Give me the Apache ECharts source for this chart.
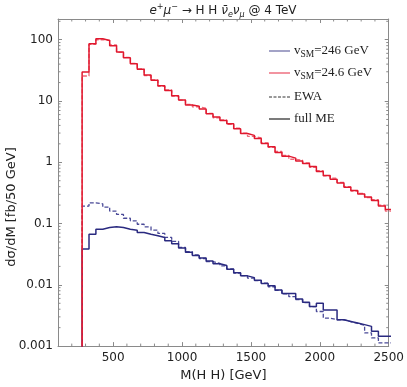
<!DOCTYPE html>
<html lang="en">
<head>
<meta charset="utf-8">
<title>HH production at 4 TeV</title>
<script src="https://cdn.jsdelivr.net/npm/echarts@6/dist/echarts.min.js"></script>
<style>
  html, body { margin: 0; padding: 0; background: #fff; }
  #chart { width: 407px; height: 387px; }
</style>
</head>
<body>
<div id="chart"></div>
<script>
// bin edges in GeV (50 GeV bins), last entry closes the last bin
var binEdges = [275, 325, 375, 425, 475, 525, 575, 625, 675, 725,
                775, 825, 875, 925, 975, 1025, 1075, 1125, 1175, 1225,
                1275, 1325, 1375, 1425, 1475, 1525, 1575, 1625, 1675, 1725,
                1775, 1825, 1875, 1925, 1975, 2025, 2075, 2125, 2175, 2225,
                2275, 2325, 2375, 2425, 2475, 2525];

// vSM = 24.6 GeV
var redFull = [29.7, 86, 104, 97, 80, 63, 50.7, 40.5, 32.9, 26.6,
               21.8, 17.7, 14.9, 12.2, 10.4, 8.6, 8.2, 7.43, 6.17, 5.46,
               4.82, 4.26, 3.53, 2.94, 2.75, 2.44, 2.02, 1.79, 1.45, 1.26,
               1.17, 1.05, 0.955, 0.85, 0.71, 0.61, 0.53, 0.458, 0.39, 0.345,
               0.305, 0.272, 0.238, 0.193, 0.17];
var redEwa  = [25.6, 84, 100, 98, 82, 62, 51.5, 41, 33.5, 26,
               22.2, 17.4, 15.2, 12.0, 10.3, 8.8, 8.0, 7.6, 6.3, 5.3,
               4.9, 4.15, 3.6, 3.0, 2.65, 2.5, 2.08, 1.75, 1.5, 1.3,
               1.12, 1.08, 0.98, 0.83, 0.73, 0.6, 0.55, 0.47, 0.4, 0.34,
               0.31, 0.265, 0.245, 0.2, 0.16];

// vSM = 246 GeV
var blueFull = [0.0385, 0.0671, 0.0809, 0.0861, 0.0885, 0.0861, 0.0809, 0.078, 0.0716, 0.0671,
                0.0634, 0.0594, 0.0526, 0.0468, 0.0398, 0.034, 0.0301, 0.0275, 0.0244, 0.0221,
                0.0207, 0.0179, 0.0158, 0.014, 0.0131, 0.0119, 0.0105, 0.00964, 0.0082, 0.00724,
                0.00724, 0.00587, 0.00519, 0.00442, 0.00501, 0.0039, 0.0039, 0.00269, 0.00253, 0.00238,
                0.00224, 0.0021, 0.00175, 0.00145, 0.00145];
var blueEwa  = [0.193, 0.218, 0.21, 0.186, 0.16, 0.141, 0.122, 0.111, 0.0975, 0.0885,
                0.078, 0.069, 0.0594, 0.0513, 0.041, 0.0347, 0.0309, 0.0269, 0.024, 0.0224,
                0.0204, 0.0182, 0.0155, 0.0141, 0.0129, 0.0117, 0.0107, 0.0093, 0.0081, 0.0071,
                0.0064, 0.00575, 0.00513, 0.00442, 0.00367, 0.00286, 0.00269, 0.00269, 0.00251, 0.00234,
                0.00219, 0.00164, 0.00136, 0.00113, 0.00113];

var xTicks = [500, 1000, 1500, 2000, 2500];
var xMinorTicks = [200, 300, 400, 600, 700, 800, 900, 1100, 1200, 1300, 1400,
                   1600, 1700, 1800, 1900, 2100, 2200, 2300, 2400];
var yMinorTicks = [0.002, 0.003, 0.004, 0.005, 0.006, 0.007, 0.008, 0.009,
                   0.02, 0.03, 0.04, 0.05, 0.06, 0.07, 0.08, 0.09,
                   0.2, 0.3, 0.4, 0.5, 0.6, 0.7, 0.8, 0.9,
                   2, 3, 4, 5, 6, 7, 8, 9,
                   20, 30, 40, 50, 60, 70, 80, 90, 200];

var xMin = 100, xMax = 2500;
var yMin = 0.001, yMax = 218;
var frameColor = '#8a8a8a';

// histogram outline: start from below the axis, one point per bin edge
function steps(vals) {
  var d = [[binEdges[0], 1e-7]];
  for (var i = 0; i < vals.length; i++) {
    d.push([binEdges[i], vals[i]]);
  }
  d.push([binEdges[vals.length], vals[vals.length - 1]]);
  return d;
}

function histSeries(vals, color, dashed, width, z) {
  return {
    type: 'line',
    step: 'end',
    data: steps(vals),
    showSymbol: false,
    clip: true,
    z: z,
    lineStyle: { color: color, width: width, type: dashed ? [4, 2] : 'solid' }
  };
}

// small inside ticks drawn on both sides of the frame
function minorTickSeries(vals, isX) {
  return {
    type: 'custom',
    silent: true,
    z: 1,
    data: vals.map(function (v) { return isX ? [v, yMin] : [xMin, v]; }),
    renderItem: function (params, api) {
      var len = 2.5;
      var st = { stroke: frameColor, lineWidth: 1 };
      if (isX) {
        var b = api.coord([api.value(0), yMin]);
        var t = api.coord([api.value(0), yMax]);
        return { type: 'group', children: [
          { type: 'line', shape: { x1: b[0], y1: b[1], x2: b[0], y2: b[1] - len }, style: st },
          { type: 'line', shape: { x1: t[0], y1: t[1], x2: t[0], y2: t[1] + len }, style: st }
        ]};
      }
      var l = api.coord([xMin, api.value(1)]);
      var r = api.coord([xMax, api.value(1)]);
      return { type: 'group', children: [
        { type: 'line', shape: { x1: l[0], y1: l[1], x2: l[0] + len, y2: l[1] }, style: st },
        { type: 'line', shape: { x1: r[0], y1: r[1], x2: r[0] - len, y2: r[1] }, style: st }
      ]};
    }
  };
}

var sansFont = 'DejaVu Sans';
var serifFont = 'Liberation Serif';

var axisCommon = {
  axisLine: { show: true, lineStyle: { color: frameColor, width: 1 } },
  axisTick: { show: true, inside: true, length: 4, lineStyle: { color: frameColor } },
  splitLine: { show: false }
};

var legendRich = {
  v: { fontFamily: serifFont, fontSize: 13, lineHeight: 16, verticalAlign: 'middle' },
  s: { fontFamily: serifFont, fontSize: 9.5, lineHeight: 10, verticalAlign: 'bottom' }
};

var option = {
  animation: false,
  backgroundColor: '#fff',
  grid: { left: 58, right: 18, top: 19, bottom: 37 },
  xAxis: [
    Object.assign({}, axisCommon, {
      type: 'value', min: xMin, max: xMax, position: 'bottom',
      axisTick: { show: true, inside: true, length: 4, customValues: xTicks, lineStyle: { color: frameColor } },
      axisLabel: {
        customValues: xTicks, color: '#222', fontFamily: sansFont, fontSize: 12, margin: 6,
        formatter: function (v) { return String(v); }
      },
      name: 'M(H H) [GeV]', nameLocation: 'middle', nameGap: 15,
      nameTextStyle: { color: '#222', fontFamily: sansFont, fontSize: 13 }
    }),
    Object.assign({}, axisCommon, {
      type: 'value', min: xMin, max: xMax, position: 'top',
      axisTick: { show: true, inside: true, length: 4, customValues: xTicks, lineStyle: { color: frameColor } },
      axisLabel: { show: false }
    })
  ],
  yAxis: [
    Object.assign({}, axisCommon, {
      type: 'log', logBase: 10, min: yMin, max: yMax, position: 'left',
      axisLabel: {
        color: '#222', fontFamily: sansFont, fontSize: 12, margin: 5,
        showMaxLabel: false,
        formatter: function (v) {
          var lg = Math.log10(v);
          if (Math.abs(lg - Math.round(lg)) > 1e-6) return '';
          return String(+v.toPrecision(3));
        }
      }
    }),
    Object.assign({}, axisCommon, {
      type: 'log', logBase: 10, min: yMin, max: yMax, position: 'right',
      axisLabel: { show: false }
    })
  ],
  graphic: [
    {
      type: 'text', x: 223, y: 11, z: 10,
      style: {
        text: '{i|e}{sup|+}{i|μ}{sup|−}{n| → H H }{i|ν̄}{sub|e}{i|ν}{sub|μ}{n| @ 4 TeV}',
        align: 'center', verticalAlign: 'middle',
        fill: '#222', fontFamily: sansFont, fontSize: 12,
        rich: {
          i: { fontStyle: 'italic', fontFamily: sansFont, fontSize: 12, lineHeight: 16, verticalAlign: 'middle' },
          n: { fontFamily: sansFont, fontSize: 12, lineHeight: 16, verticalAlign: 'middle' },
          sup: { fontStyle: 'italic', fontFamily: sansFont, fontSize: 8, lineHeight: 10, verticalAlign: 'top' },
          sub: { fontStyle: 'italic', fontFamily: sansFont, fontSize: 8, lineHeight: 10, verticalAlign: 'bottom' }
        }
      }
    },
    {
      type: 'text', x: 12, y: 207, rotation: Math.PI / 2, z: 10,
      style: {
        text: 'dσ/dM [fb/50 GeV]', align: 'center', verticalAlign: 'middle',
        fill: '#222', fontFamily: sansFont, fontSize: 13
      }
    },
    // legend
    { type: 'line', shape: { x1: 269, y1: 51, x2: 290, y2: 51 }, style: { stroke: '#8585b5', lineWidth: 1.5 } },
    { type: 'line', shape: { x1: 269, y1: 73, x2: 290, y2: 73 }, style: { stroke: '#ee7080', lineWidth: 1.5 } },
    { type: 'line', shape: { x1: 269, y1: 97, x2: 290, y2: 97 }, style: { stroke: '#333', lineWidth: 1, lineDash: [3, 1.5] } },
    { type: 'line', shape: { x1: 269, y1: 119, x2: 290, y2: 119 }, style: { stroke: '#333', lineWidth: 1.3 } },
    {
      type: 'text', x: 294, y: 51,
      style: { text: '{v|v}{s|SM}{v|=246 GeV}', verticalAlign: 'middle', fill: '#222', rich: legendRich }
    },
    {
      type: 'text', x: 294, y: 73,
      style: { text: '{v|v}{s|SM}{v|=24.6 GeV}', verticalAlign: 'middle', fill: '#222', rich: legendRich }
    },
    {
      type: 'text', x: 294, y: 97,
      style: { text: 'EWA', verticalAlign: 'middle', fill: '#222', fontFamily: serifFont, fontSize: 13 }
    },
    {
      type: 'text', x: 294, y: 119,
      style: { text: 'full ME', verticalAlign: 'middle', fill: '#222', fontFamily: serifFont, fontSize: 13 }
    }
  ],
  series: [
    histSeries(blueEwa, '#4a4a98', true, 1.3, 2),
    histSeries(blueFull, '#2a2a80', false, 1.5, 3),
    histSeries(redEwa, '#f06878', true, 1.3, 4),
    histSeries(redFull, '#e0182e', false, 1.5, 5),
    minorTickSeries(xMinorTicks, true),
    minorTickSeries(yMinorTicks, false)
  ]
};

var myChart = echarts.init(document.getElementById('chart'));
myChart.setOption(option);
</script>
</body>
</html>
